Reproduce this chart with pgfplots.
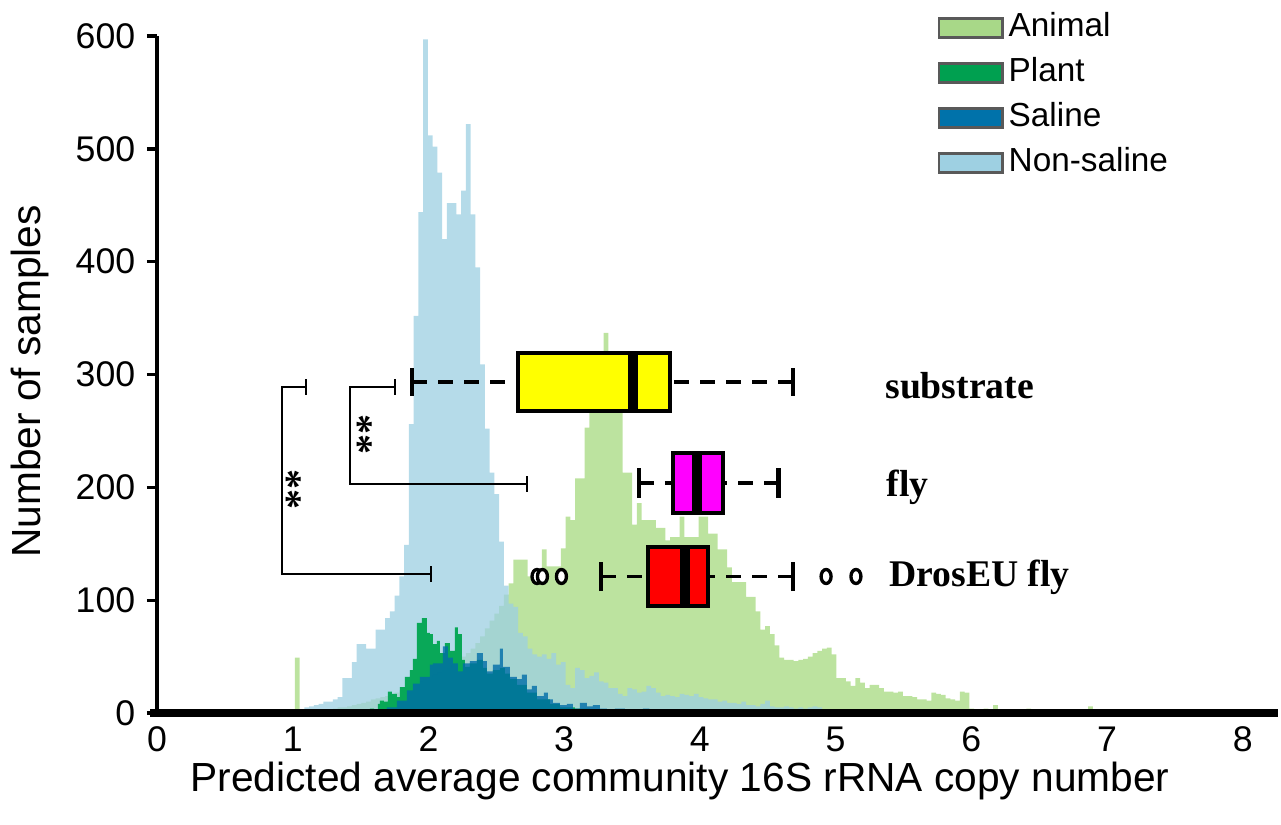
\documentclass[border=0pt]{standalone}
\usepackage{pgfplots}
\pgfplotsset{compat=1.18}
\usepgfplotslibrary{statistics}
\usepackage{fontspec}
\setmainfont{Liberation Sans}
\newfontfamily\tnr{Liberation Serif}
\definecolor{animal}{HTML}{A6D97F}
\definecolor{nonsal}{HTML}{9CCFE2}
\definecolor{plant}{HTML}{00A651}
\definecolor{saline}{HTML}{006CA8}
\definecolor{animalL}{HTML}{A8D888}
\definecolor{plantL}{HTML}{00A050}
\definecolor{salineL}{HTML}{0072AA}
\definecolor{nonsalL}{HTML}{9ED0E2}
\definecolor{boxY}{RGB}{255,255,0}
\definecolor{boxM}{RGB}{255,0,255}
\definecolor{boxR}{RGB}{255,0,0}
\begin{document}
\begin{tikzpicture}
\begin{axis}[
  at={(0,0)}, anchor=south west,
  scale only axis, width=336.3pt, height=203.1pt,
  xmin=0, xmax=8.26, ymin=0, ymax=600,
  axis x line*=bottom, axis y line*=left,
  x axis line style={line width=2.4pt, shorten <=-2pt},
  y axis line style={line width=1.4pt},
  xtick={0,...,8}, ytick={0,100,...,600},
  xtick style={draw=none},
  ytick style={line width=1pt, black},
  tick align=outside, major tick length=3pt,
  /pgf/number format/assume math mode=true,
  tick label style={font=\fontsize{10.7}{13}\selectfont},
  xticklabel style={yshift=0pt, inner sep=1pt},
  xlabel={Predicted average community 16S rRNA copy number},
  ylabel={Number of samples},
  label style={font=\fontsize{12.2}{14}\selectfont},
  xlabel style={at={(axis description cs:0.4666,-0.1005)}, anchor=center, inner sep=0pt},
  ylabel style={at={(axis description cs:-0.1133,0.49)}, anchor=center, rotate=0},
  axis on top,
  legend style={at={(axis description cs:0.6958,1.0446)}, anchor=north west,
    draw=none, fill=none, inner sep=0pt, row sep=0.8pt,
    font=\fontsize{10}{12}\selectfont,
    nodes={text height=7.5pt, text depth=2.2pt, inner sep=1.5pt}},
  legend cell align=left,
  legend image code/.code={\draw[#1, draw=black!65, line width=0.8pt] (0pt,-2.85pt) rectangle (19pt,2.85pt);},
  boxplot/draw direction=x,
  boxplot/every box/.style={draw=black, line width=1.2pt},
  boxplot/every median/.style={black, line width=3pt},
  boxplot/every whisker/.style={black, line width=1.1pt, dash pattern=on 4.5pt off 3.3pt},
  boxplot/draw/lower whisker/.code={%
    \draw[/pgfplots/boxplot/every whisker/.try]
      (boxplot cs:\pgfplotsboxplotvalue{lower whisker}) -- (boxplot cs:\pgfplotsboxplotvalue{lower quartile});
    \draw[black, line width=1.3pt]
      (boxplot whisker cs:\pgfplotsboxplotvalue{lower whisker},0) -- (boxplot whisker cs:\pgfplotsboxplotvalue{lower whisker},1);
  },
  boxplot/draw/upper whisker/.code={%
    \draw[/pgfplots/boxplot/every whisker/.try]
      (boxplot cs:\pgfplotsboxplotvalue{upper whisker}) -- (boxplot cs:\pgfplotsboxplotvalue{upper quartile});
    \draw[black, line width=1.3pt]
      (boxplot whisker cs:\pgfplotsboxplotvalue{upper whisker},0) -- (boxplot whisker cs:\pgfplotsboxplotvalue{upper whisker},1);
  },
]
% legend entries
\addlegendimage{fill=animalL}\addlegendentry{Animal}
\addlegendimage{fill=plantL}\addlegendentry{Plant}
\addlegendimage{fill=salineL}\addlegendentry{Saline}
\addlegendimage{fill=nonsalL}\addlegendentry{Non-saline}

% Animal histogram
\addplot[const plot, draw=none, fill=animal, fill opacity=0.75, forget plot] coordinates {
(1.015,49) (1.05,3) (1.085,0) (1.12,2) (1.155,0) (1.19,2) (1.225,3) (1.26,3) (1.295,4) (1.33,5)
(1.365,5) (1.4,6) (1.435,7) (1.47,8) (1.505,9) (1.54,10) (1.575,12) (1.61,13) (1.645,14) (1.68,15)
(1.715,17) (1.75,18) (1.785,20) (1.82,22) (1.855,24) (1.89,26) (1.925,28) (1.96,30) (1.995,32) (2.03,34)
(2.065,36) (2.1,38) (2.135,40) (2.17,43) (2.205,46) (2.24,50) (2.275,53) (2.31,57) (2.345,62) (2.38,68)
(2.415,75) (2.45,82) (2.485,88) (2.52,95) (2.555,105) (2.59,115) (2.625,136) (2.66,136) (2.695,136) (2.73,121)
(2.765,121) (2.8,121) (2.835,145) (2.87,130) (2.905,130) (2.94,130) (2.975,146) (3.01,174) (3.045,171) (3.08,208)
(3.115,208) (3.15,253) (3.185,266) (3.22,285) (3.255,300) (3.29,337) (3.325,315) (3.36,290) (3.395,270) (3.43,213)
(3.465,213) (3.5,167) (3.535,186) (3.57,171) (3.605,171) (3.64,171) (3.675,164) (3.71,164) (3.745,153) (3.78,156)
(3.815,156) (3.85,174) (3.885,156) (3.92,156) (3.955,156) (3.99,174) (4.025,174) (4.06,159) (4.095,159) (4.13,145)
(4.165,145) (4.2,129) (4.235,116) (4.27,116) (4.305,116) (4.34,103) (4.375,103) (4.41,90) (4.445,74) (4.48,77)
(4.515,70) (4.55,60) (4.585,49) (4.62,47) (4.655,47) (4.69,46) (4.725,47) (4.76,48) (4.795,50) (4.83,53)
(4.865,55) (4.9,57) (4.935,58) (4.97,52) (5.005,31) (5.04,31) (5.075,28) (5.11,24) (5.145,31) (5.18,27)
(5.215,22) (5.25,25) (5.285,25) (5.32,22) (5.355,19) (5.39,19) (5.425,18) (5.46,19) (5.495,15) (5.53,15)
(5.565,14) (5.6,12) (5.635,12) (5.67,11) (5.705,18) (5.74,17) (5.775,16) (5.81,13) (5.845,12) (5.88,11)
(5.915,19) (5.95,18) (5.985,4) (6.02,3) (6.055,3) (6.09,4) (6.125,3) (6.16,7) (6.195,3) (6.23,2)
(6.265,1) (6.3,2) (6.335,3) (6.37,1) (6.405,4) (6.44,3) (6.475,1) (6.51,1) (6.545,0) (6.65,2)
(6.685,0) (6.86,6) (6.895,2) (6.93,0) (7.0,1) (7.035,0) (7.455,3) (7.49,0)
} \closedcycle;

% Non-saline histogram
\addplot[const plot, draw=none, fill=nonsal, fill opacity=0.75, forget plot] coordinates {
(1.015,3) (1.05,3) (1.085,5) (1.12,6) (1.155,7) (1.19,8) (1.225,10) (1.26,10) (1.295,12) (1.33,14)
(1.365,31) (1.4,31) (1.435,45) (1.47,61) (1.505,61) (1.54,57) (1.575,57) (1.61,74) (1.645,74) (1.68,84)
(1.715,90) (1.75,104) (1.785,121) (1.82,149) (1.855,256) (1.89,352) (1.925,444) (1.96,597) (1.995,512) (2.03,502)
(2.065,479) (2.1,420) (2.135,452) (2.17,452) (2.205,442) (2.24,463) (2.275,522) (2.31,442) (2.345,395) (2.38,309)
(2.415,252) (2.45,213) (2.485,194) (2.52,152) (2.555,113) (2.59,97) (2.625,94) (2.66,71) (2.695,68) (2.73,57)
(2.765,52) (2.8,50) (2.835,52) (2.87,48) (2.905,53) (2.94,43) (2.975,45) (3.01,25) (3.045,22) (3.08,40)
(3.115,38) (3.15,31) (3.185,33) (3.22,36) (3.255,28) (3.29,27) (3.325,22) (3.36,22) (3.395,17) (3.43,15)
(3.465,22) (3.5,21) (3.535,18) (3.57,19) (3.605,24) (3.64,22) (3.675,18) (3.71,15) (3.745,16) (3.78,15)
(3.815,14) (3.85,17) (3.885,16) (3.92,15) (3.955,17) (3.99,14) (4.025,13) (4.06,12) (4.095,12) (4.13,10)
(4.165,11) (4.2,9) (4.235,9) (4.27,8) (4.305,10) (4.34,7) (4.375,7) (4.41,6) (4.445,8) (4.48,11)
(4.515,6) (4.55,5) (4.585,5) (4.62,6) (4.655,5) (4.69,4) (4.725,5) (4.76,4) (4.795,5) (4.83,6)
(4.865,5) (4.9,3) (4.935,2) (4.97,2) (5.005,0) (5.82,2) (5.855,0)
} \closedcycle;

% Plant histogram
\addplot[const plot, draw=none, fill=plant, fill opacity=0.95, forget plot] coordinates {
(1.459,1) (1.510,3) (1.540,1) (1.569,4) (1.599,2) (1.628,8) (1.643,11) (1.672,10) (1.702,19) (1.731,17)
(1.768,14) (1.790,23) (1.827,32) (1.864,38) (1.886,48) (1.915,80) (1.952,84) (1.989,71) (2.011,70) (2.033,61)
(2.063,64) (2.085,53) (2.122,62) (2.158,55) (2.195,76) (2.217,70) (2.247,47) (2.269,41) (2.306,44) (2.357,47)
(2.401,40) (2.431,35) (2.475,38) (2.527,40) (2.564,35) (2.600,30) (2.652,25) (2.726,18) (2.799,12) (2.895,8)
(2.969,5) (3.079,4) (3.190,3) (3.337,2) (3.558,1) (3.849,0)
} \closedcycle;

% Saline histogram
\addplot[const plot, draw=none, fill=saline, fill opacity=0.8, forget plot] coordinates {
(1.643,2) (1.694,5) (1.768,11) (1.842,20) (1.886,26) (1.937,32) (2.011,43) (2.033,44) (2.107,59) (2.144,49)
(2.180,44) (2.217,37) (2.254,44) (2.306,46) (2.357,53) (2.401,46) (2.431,37) (2.475,43) (2.527,57) (2.549,41)
(2.600,32) (2.652,30) (2.689,34) (2.726,21) (2.762,24) (2.799,15) (2.851,18) (2.880,12) (2.917,9) (2.969,7)
(3.020,8) (3.064,4) (3.116,9) (3.168,6) (3.212,7) (3.263,4) (3.315,3) (3.374,4) (3.447,2) (3.580,4)
(3.628,2) (3.701,1) (3.926,3) (3.978,1) (4.074,2) (4.125,1) (4.221,2) (4.273,1) (4.442,1) (4.737,0)
} \closedcycle;

% significance brackets
\addplot[black, line width=0.6pt, forget plot] coordinates {(1.098,289) (0.92,289) (0.92,123) (2.02,123)};
\addplot[black, line width=0.6pt, forget plot] coordinates {(1.098,282) (1.098,296)};
\addplot[black, line width=0.6pt, forget plot] coordinates {(2.02,116) (2.02,130)};
\addplot[black, line width=0.6pt, forget plot] coordinates {(1.755,289) (1.42,289) (1.42,203) (2.726,203)};
\addplot[black, line width=0.6pt, forget plot] coordinates {(1.755,282) (1.755,296)};
\addplot[black, line width=0.6pt, forget plot] coordinates {(2.726,196) (2.726,210)};

% box plots
\addplot[forget plot, boxplot/every box/.append style={fill=boxY},
  boxplot prepared={lower whisker=1.88, lower quartile=2.66, median=3.51,
    upper quartile=3.78, upper whisker=4.685, draw position=293.5,
    box extend=51, whisker extend=25}] coordinates {};
\addplot[forget plot, boxplot/every box/.append style={fill=boxM},
  boxplot prepared={lower whisker=3.55, lower quartile=3.80, median=3.98,
    upper quartile=4.17, upper whisker=4.58, draw position=204,
    box extend=53, whisker extend=26}] coordinates {};
\addplot[forget plot, boxplot/every box/.append style={fill=boxR},
  mark=*, mark options={draw=black, fill=white, line width=1pt, mark size=1.5pt, yscale=1.4, solid},
  boxplot prepared={lower whisker=3.27, lower quartile=3.617, median=3.89,
    upper quartile=4.06, upper whisker=4.685, draw position=121,
    box extend=52, whisker extend=26}]
  table[row sep=\\, y index=0] {v\\ 2.80\\ 2.84\\ 2.98\\ 4.93\\ 5.15\\};

% labels
\node[anchor=west, font=\tnr\bfseries\fontsize{11.3}{13}\selectfont] at (axis cs:5.28,290) {substrate};
\node[anchor=west, font=\tnr\bfseries\fontsize{11.3}{13}\selectfont] at (axis cs:5.29,200) {fly};
\node[anchor=west, font=\tnr\bfseries\fontsize{11.3}{13}\selectfont] at (axis cs:5.31,120) {DrosEU fly};
\node[rotate=90, font=\tnr\bfseries\fontsize{12}{13}\selectfont] at (axis cs:1.575,247) {**};
\node[rotate=90, font=\tnr\bfseries\fontsize{12}{13}\selectfont] at (axis cs:1.05,198) {**};
\end{axis}
\pgfresetboundingbox
\path (-47.1pt,-33.3pt) rectangle (337.2pt,213.9pt);
\end{tikzpicture}
\end{document}
